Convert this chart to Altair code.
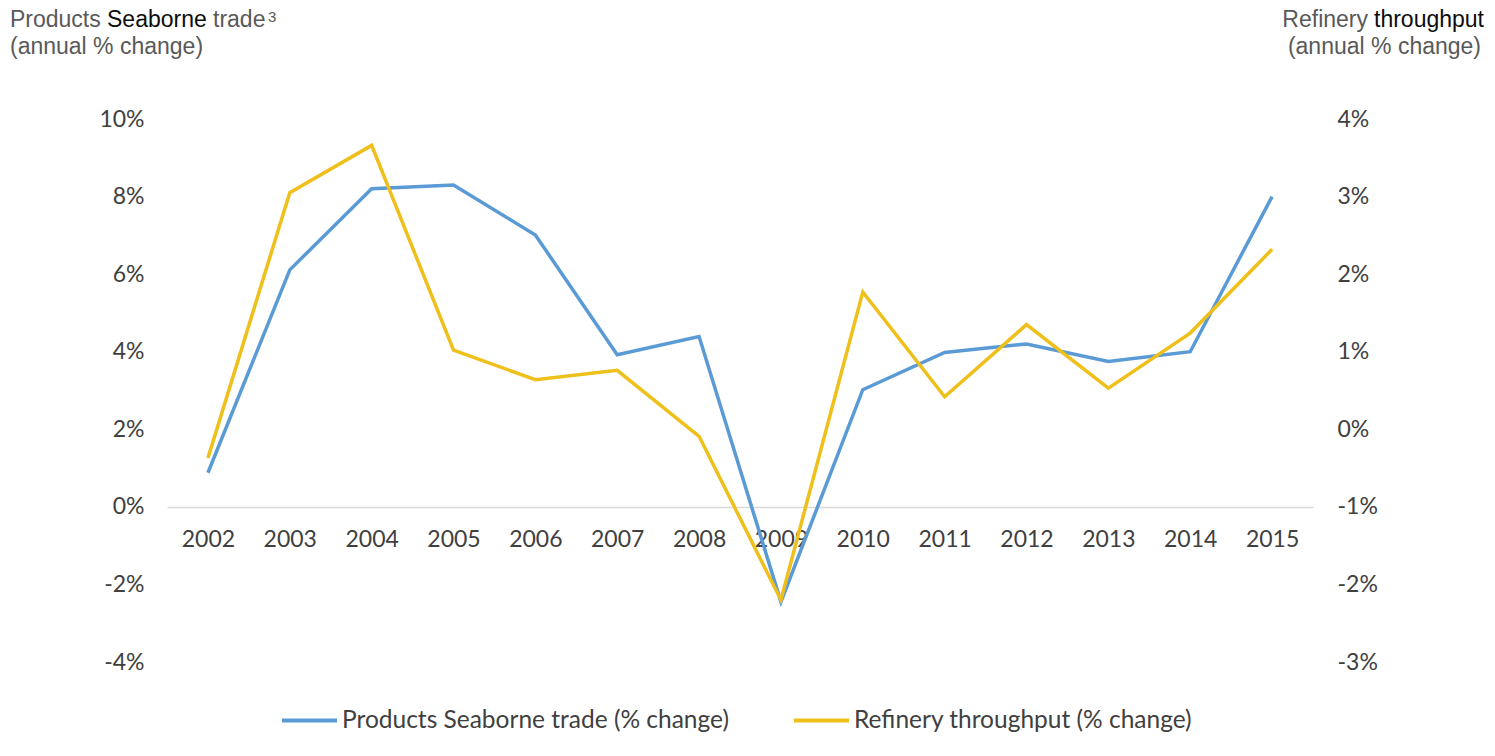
import altair as alt
import pandas as pd

years = [str(y) for y in range(2002, 2016)]
seaborne = [0.88, 6.11, 8.20, 8.30, 7.01, 3.92, 4.39, -2.45, 3.02, 3.98, 4.20, 3.75, 4.00, 8.00]
refinery = [-0.37, 3.05, 3.66, 1.02, 0.64, 0.76, -0.09, -2.20, 1.77, 0.42, 1.35, 0.53, 1.24, 2.32]
series_names = ["Products Seaborne trade (% change)", "Refinery throughput (% change)"]
series_colors = ["#5B9BD5", "#EFBF1A"]
left_ticks = [-4, -2, 0, 2, 4, 6, 8, 10]
right_ticks = [-3, -2, -1, 0, 1, 2, 3, 4]

df = pd.DataFrame({
    "year": years * 2,
    "value": seaborne + refinery,
    "series": [series_names[0]] * len(years) + [series_names[1]] * len(years),
})

W, H = 1146, 543
LABEL_FONT = "Lato"
LABEL_COLOR = "#404040"
FS = 23

color = alt.Color(
    "series:N",
    scale=alt.Scale(domain=series_names, range=series_colors),
    legend=alt.Legend(
        title=None, orient="none", legendX=113, legendY=572, direction="horizontal",
        symbolType="stroke", symbolSize=3025, symbolStrokeWidth=4,
        labelFont=LABEL_FONT, labelFontSize=24.5, labelColor=LABEL_COLOR, labelLimit=0,
        labelOffset=3, columnPadding=56, padding=0,
    ),
)

xenc = alt.X(
    "year:O", sort=years, title=None,
    scale=alt.Scale(type="point", padding=0.5),
    axis=alt.Axis(
        orient="bottom", offset=-155, ticks=False, grid=False,
        domainColor="#D9D9D9", domainWidth=1.5, labelAngle=0,
        labelFont=LABEL_FONT, labelFontSize=FS, labelColor=LABEL_COLOR, labelPadding=21,
    ),
)

left = alt.Chart(df).transform_filter(
    alt.datum.series == series_names[0]
).mark_line(strokeWidth=3.5).encode(
    x=xenc,
    y=alt.Y(
        "value:Q", title=None,
        scale=alt.Scale(domain=[-4, 10], nice=False, zero=False),
        axis=alt.Axis(
            orient="left", values=left_ticks, labelExpr="datum.value + '%'",
            grid=False, domain=False, ticks=False, labelPadding=23,
            labelFont=LABEL_FONT, labelFontSize=FS, labelColor=LABEL_COLOR,
        ),
    ),
    color=color,
)

right = alt.Chart(df).transform_filter(
    alt.datum.series == series_names[1]
).mark_line(strokeWidth=3.5).encode(
    x=xenc,
    y=alt.Y(
        "value:Q", title=None,
        scale=alt.Scale(domain=[-3, 4], nice=False, zero=False),
        axis=alt.Axis(
            orient="right", values=right_ticks, labelExpr="datum.value + '%'",
            grid=False, domain=False, ticks=False, labelPadding=24,
            labelFont=LABEL_FONT, labelFontSize=FS, labelColor=LABEL_COLOR,
        ),
    ),
    color=color,
)

one = pd.DataFrame({"a": [0]})
GRAY = "#595959"
BLACK = "#0d0d0d"


def txt(s, x, y, col, align="left", size=23):
    return alt.Chart(one).mark_text(
        text=s, font="Liberation Sans", fontSize=size, color=col,
        align=align, baseline="alphabetic",
    ).encode(x=alt.value(x), y=alt.value(y))


titles = [
    txt("Products", -157, -92, GRAY),
    txt("Seaborne", -60, -92, BLACK),
    txt("trade", 46, -92, GRAY),
    txt("3", 101, -97, GRAY, size=15),
    txt("(annual % change)", -157, -65, GRAY),
    txt("throughput", 1317, -92, BLACK, align="right"),
    txt("Refinery", 1201, -92, GRAY, align="right"),
    txt("(annual % change)", 1314, -65, GRAY, align="right"),
]

base = alt.layer(left, right).resolve_scale(y="independent")
chart = alt.layer(base, *titles).properties(
    width=W, height=H,
    padding={"left": 167, "top": 119, "right": 182, "bottom": 94},
    autosize=alt.AutoSizeParams(type="none"),
    background="white",
).configure_view(stroke="transparent")

chart.save("out.html", embed_options={"renderer": "svg", "actions": False})
